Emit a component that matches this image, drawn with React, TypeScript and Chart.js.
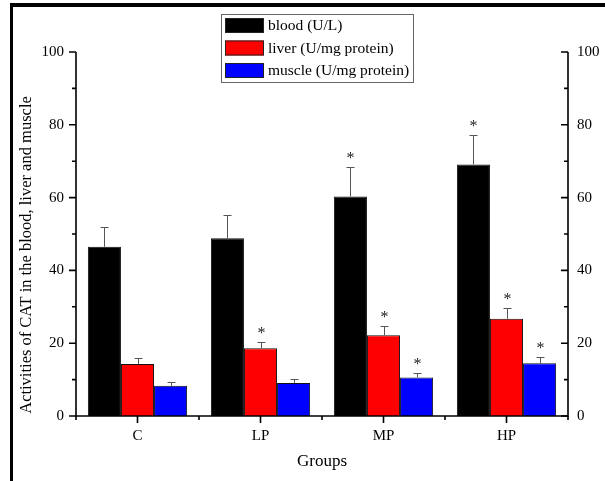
import React, { useEffect, useRef } from "react";
import { Chart, registerables } from "chart.js";

Chart.register(...registerables);

const groups = ["C", "LP", "MP", "HP"];
const seriesNames = ["blood (U/L)", "liver (U/mg protein)", "muscle (U/mg protein)"];
const seriesColors = ["#000000", "#ff0000", "#0000ff"];
const blood = [46.5, 48.8, 60.3, 69.1];
const bloodErr = [5.3, 6.5, 8.0, 8.2];
const liver = [14.3, 18.6, 22.2, 26.7];
const liverErr = [1.6, 1.8, 2.4, 2.9];
const muscle = [8.3, 9.1, 10.6, 14.5];
const muscleErr = [1.0, 1.1, 1.1, 1.6];
const bloodSig = [false, false, true, true];
const liverSig = [false, true, true, true];
const muscleSig = [false, false, true, true];
const yMajorTicks = [0, 20, 40, 60, 80, 100];
const yMinorTicks = [10, 30, 50, 70, 90];
const yTitle = "Activities of CAT in the blood, liver and muscle";
const xTitle = "Groups";

const SERIF = "'Liberation Serif', 'DejaVu Serif', serif";
const errs = [bloodErr, liverErr, muscleErr];
const sigs = [bloodSig, liverSig, muscleSig];

const decorPlugin = {
  id: "decor",
  afterDatasetsDraw(chart: any) {
    const ctx = chart.ctx;
    const y = chart.scales.y;
    ctx.save();
    chart.data.datasets.forEach((ds: any, di: number) => {
      const meta = chart.getDatasetMeta(di);
      meta.data.forEach((bar: any, i: number) => {
        const v = ds.data[i];
        const top = y.getPixelForValue(v);
        const et = y.getPixelForValue(v + errs[di][i]);
        const bx = Math.round(bar.x) + 0.5;
        ctx.strokeStyle = "#555";
        ctx.lineWidth = 1;
        ctx.beginPath();
        ctx.moveTo(bx, top);
        ctx.lineTo(bx, Math.round(et) + 0.5);
        ctx.moveTo(bx - 4, Math.round(et) + 0.5);
        ctx.lineTo(bx + 4, Math.round(et) + 0.5);
        ctx.stroke();
        if (sigs[di][i]) {
          ctx.fillStyle = "#222";
          ctx.font = `16px ${SERIF}`;
          ctx.textAlign = "center";
          ctx.textBaseline = "alphabetic";
          ctx.fillText("*", bx, et - 4);
        }
      });
    });
    ctx.restore();
  },
  afterDraw(chart: any) {
    const ctx = chart.ctx;
    const { left, right, bottom } = chart.chartArea;
    const x = chart.scales.x;
    const y = chart.scales.y;
    ctx.save();
    // axis lines
    ctx.strokeStyle = "#000";
    ctx.lineWidth = 1.6;
    ctx.beginPath();
    ctx.moveTo(left, y.getPixelForValue(100));
    ctx.lineTo(left, bottom);
    ctx.lineTo(right, bottom);
    ctx.lineTo(right, y.getPixelForValue(100));
    ctx.stroke();
    // y ticks
    ctx.beginPath();
    yMajorTicks.forEach((t) => {
      const p = y.getPixelForValue(t);
      ctx.moveTo(left, p);
      ctx.lineTo(left - 7, p);
      ctx.moveTo(right, p);
      ctx.lineTo(right - 7, p);
    });
    yMinorTicks.forEach((t) => {
      const p = y.getPixelForValue(t);
      ctx.moveTo(left, p);
      ctx.lineTo(left - 4, p);
      ctx.moveTo(right, p);
      ctx.lineTo(right - 4, p);
    });
    // x ticks
    const centers = groups.map((_, i) => x.getPixelForValue(i));
    centers.forEach((c) => {
      ctx.moveTo(c, bottom);
      ctx.lineTo(c, bottom + 7);
    });
    const bounds = [left, right];
    for (let i = 0; i < centers.length - 1; i++) bounds.push((centers[i] + centers[i + 1]) / 2);
    bounds.forEach((b) => {
      ctx.moveTo(b, bottom);
      ctx.lineTo(b, bottom + 4);
    });
    ctx.stroke();

    // titles
    ctx.fillStyle = "#000";
    ctx.font = `17px ${SERIF}`;
    ctx.textAlign = "center";
    ctx.textBaseline = "middle";
    ctx.fillText(xTitle, (left + right) / 2, 462);
    ctx.save();
    ctx.translate(27, 255);
    ctx.rotate(-Math.PI / 2);
    ctx.font = `16.5px ${SERIF}`;
    ctx.fillText(yTitle, 0, 0);
    ctx.restore();

    // legend
    ctx.fillStyle = "#fff";
    ctx.fillRect(221, 14, 192, 68);
    ctx.strokeStyle = "#666";
    ctx.lineWidth = 1;
    ctx.strokeRect(221.5, 14.5, 192, 68);
    const rowY = [18, 40.5, 63];
    seriesNames.forEach((name, i) => {
      ctx.fillStyle = seriesColors[i];
      ctx.fillRect(225, rowY[i], 39, 15);
      ctx.strokeStyle = "#222";
      ctx.strokeRect(225.5, rowY[i] + 0.5, 38, 14);
      ctx.fillStyle = "#000";
      ctx.font = `15.5px ${SERIF}`;
      ctx.textAlign = "left";
      ctx.textBaseline = "middle";
      ctx.fillText(name, 268, rowY[i] + 8);
    });

    // frame
    ctx.fillStyle = "#000";
    ctx.fillRect(10, 3, 595, 4);
    ctx.fillRect(10, 3, 3, 478);
    ctx.restore();
  },
};

export default function App() {
  const ref = useRef<HTMLCanvasElement>(null);
  useEffect(() => {
    if (!ref.current) return;
    const tickFont = { family: SERIF, size: 15 };
    const chart = new Chart(ref.current, {
      type: "bar",
      data: {
        labels: groups,
        datasets: [
          { label: seriesNames[0], data: blood, backgroundColor: seriesColors[0], borderColor: "#111", borderWidth: 1 },
          { label: seriesNames[1], data: liver, backgroundColor: seriesColors[1], borderColor: "#111", borderWidth: 1 },
          { label: seriesNames[2], data: muscle, backgroundColor: seriesColors[2], borderColor: "#111", borderWidth: 1 },
        ],
      },
      options: {
        responsive: false,
        animation: false,
        devicePixelRatio: 1,
        layout: { padding: { top: 52, left: 0, right: 0, bottom: 0 } },
        plugins: { legend: { display: false }, tooltip: { enabled: false } },
        datasets: { bar: { categoryPercentage: 0.807, barPercentage: 1 } },
        scales: {
          x: {
            grid: { display: false, drawTicks: false },
            border: { display: false },
            ticks: { color: "#000", font: tickFont, padding: 11, maxRotation: 0 },
            afterFit: (s: any) => { s.height = 65; },
          },
          y: {
            position: "left",
            min: 0,
            max: 100,
            grid: { display: false, drawTicks: false },
            border: { display: false },
            ticks: { color: "#000", font: tickFont, stepSize: 20, padding: 12 },
            afterFit: (s: any) => { s.width = 76; },
          },
          y1: {
            position: "right",
            min: 0,
            max: 100,
            grid: { display: false, drawTicks: false },
            border: { display: false },
            ticks: { color: "#000", font: tickFont, stepSize: 20, padding: 9 },
            afterFit: (s: any) => { s.width = 37; },
          },
        },
      } as any,
      plugins: [decorPlugin],
    });
    return () => chart.destroy();
  }, []);
  return (
    <div style={{ position: "fixed", left: 0, top: 0, width: 605, height: 481, background: "#fff" }}>
      <canvas ref={ref} width={605} height={481} style={{ width: 605, height: 481, display: "block" }} />
    </div>
  );
}
